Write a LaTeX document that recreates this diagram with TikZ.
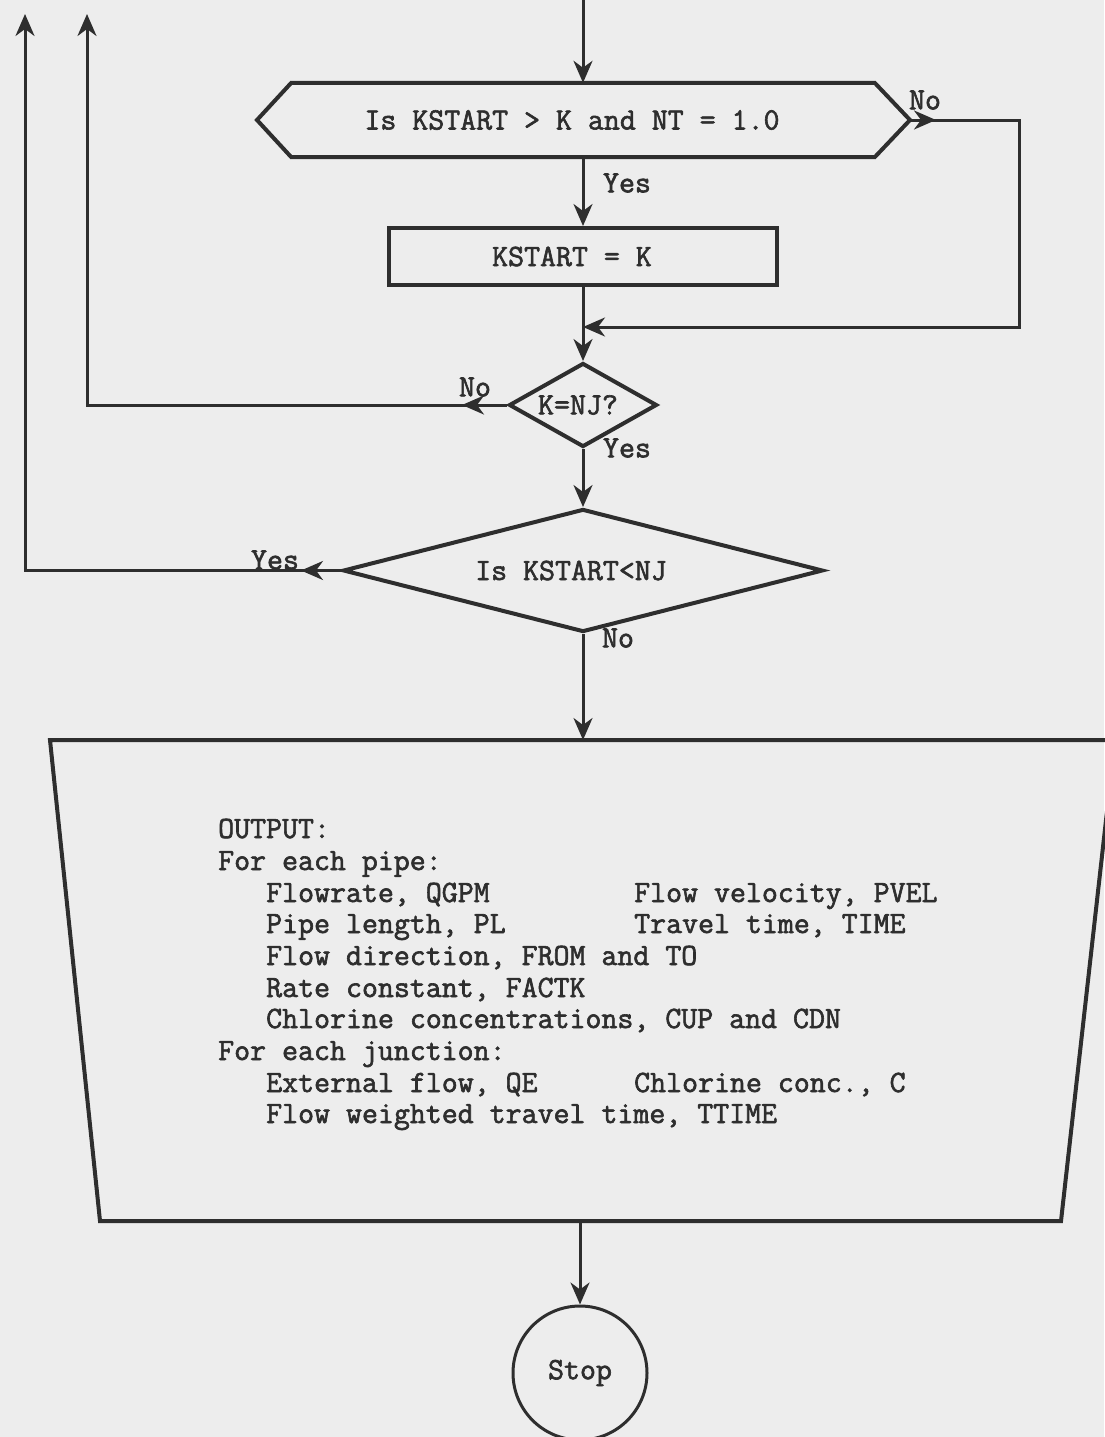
\documentclass[tikz,border=0pt]{standalone}
\usepackage{fontspec}
\setmonofont[FakeBold=2]{Latin Modern Mono}
\usetikzlibrary{shapes.geometric,arrows.meta}
\definecolor{paper}{HTML}{EDEDED}
\definecolor{ink}{HTML}{2E2E2E}
\begin{document}
\begin{tikzpicture}[x=1pt,y=-1pt,
  every node/.style={font=\fontsize{31}{31.6}\selectfont\ttfamily, text=ink},
  shp/.style={draw=ink, line width=4pt},
  con/.style={draw=ink, line width=3pt},
  arr/.style={con, -{Stealth[length=22pt,width=19pt,inset=7pt]}},
  lbl/.style={inner sep=0pt},
  ln/.style={anchor=base west, inner sep=0pt}]
\fill[paper] (0,0) rectangle (1104,1437);
\useasboundingbox (0,0) rectangle (1104,1437);

% hexagon decision
\node[minimum width=583pt, minimum height=74pt, inner sep=0pt] (hex) at (583,120) {Is KSTART > K and NT = 1.0\hspace*{22pt}};
\coordinate (hexL) at (257,120);
\coordinate (hexR) at (910,120);
\draw[shp] (hexL) -- (hex.north west) -- (hex.north east) -- (hexR) -- (hex.south east) -- (hex.south west) -- cycle;
\coordinate (top) at (583,0);
\draw[arr] (top) -- (hex.north);

% process box
\node[shp, rectangle, minimum width=388pt, minimum height=57pt, inner sep=0pt] (set) at (583,256.5) {KSTART = K\hspace*{22pt}};
\draw[arr] (hex.south) -- (set.north);

% No branch of hexagon
\coordinate (nR) at (1019,120);
\coordinate (nRb) at (1019,327);
\coordinate (merge) at (583,327);
\draw[arr] (hexR) -- (nR) -- (nRb) -- (merge);
\draw[arr] (hexR) -- ++(26,0);

% small diamond
\node[shp, diamond, aspect=1.76, minimum width=148pt, minimum height=84pt, inner sep=0pt] (kn) at (583,405) {K=NJ?\hspace*{10pt}};
\draw[arr] (set.south) -- (kn.north);
\coordinate (cK) at (87,405);
\coordinate (cKt) at (87,14);
\draw[arr] (kn.west) -- (cK) -- (cKt);
\draw[arr] (kn.west) -- ++(-45,0);

% big diamond
\node[shp, diamond, aspect=3.9, minimum width=480pt, minimum height=123pt, inner sep=0pt] (ks) at (583,570.5) {Is KSTART<NJ\hspace*{24pt}};
\draw[arr] (kn.south) -- (ks.north);
\coordinate (cY) at (25,570.5);
\coordinate (cYt) at (25,14);
\draw[arr] (ks.west) -- (cY) -- (cYt);
\draw[arr] (ks.west) -- ++(-40,0);

% labels
\node[lbl] (lNo1) at (925,100) {No};
\node[lbl] (lYes1) at (627,183) {Yes};
\node[lbl] (lNo2) at (475,387) {No};
\node[lbl] (lYes2) at (627,448) {Yes};
\node[lbl] (lYes3) at (275,560) {Yes};
\node[lbl] (lNo3) at (618,638) {No};

% output trapezoid
\coordinate (tl) at (50,740);
\coordinate (tr) at (1115,740);
\coordinate (br) at (1061,1221);
\coordinate (bl) at (100,1221);
\draw[shp, line join=miter] (tl) -- (tr) -- (br) -- (bl) -- cycle;
\coordinate (tin) at (583,740);
\draw[arr] (ks.south) -- (tin);

\node[ln] (o1) at (218,838) {OUTPUT:};
\node[ln] (o2) at (218,870) {For each pipe:};
\node[ln] (o3) at (266,902) {Flowrate, QGPM};
\node[ln] (o3b) at (634,902) {Flow velocity, PVEL};
\node[ln] (o4) at (266,933) {Pipe length, PL};
\node[ln] (o4b) at (634,933) {Travel time, TIME};
\node[ln] (o5) at (266,965) {Flow direction, FROM and TO};
\node[ln] (o6) at (266,997) {Rate constant, FACTK};
\node[ln] (o7) at (266,1028) {Chlorine concentrations, CUP and CDN};
\node[ln] (o8) at (218,1060) {For each junction:};
\node[ln] (o9) at (266,1092) {External flow, QE};
\node[ln] (o9b) at (634,1092) {Chlorine conc., C};
\node[ln] (o10) at (266,1123) {Flow weighted travel time, TTIME};

% stop
\coordinate (tout) at (580,1221);
\node[draw=ink, line width=3pt, circle, minimum size=134pt, inner sep=0pt] (stop) at (580,1373) {Stop};
\draw[arr] (tout) -- (stop.north);
\end{tikzpicture}
\end{document}
